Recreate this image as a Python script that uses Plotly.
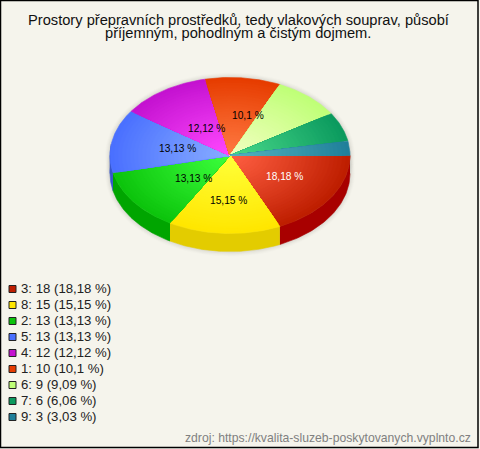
import numpy as np
import plotly.graph_objects as go

TITLE_LINES = ["Prostory přepravních prostředků, tedy vlakových souprav, působí", "příjemným, pohodlným a čistým dojmem."]
SOURCE = "zdroj: https://kvalita-sluzeb-poskytovanych.vyplnto.cz"
categories = ["3", "8", "2", "5", "4", "1", "6", "7", "9"]
values = [18, 15, 13, 13, 12, 10, 9, 6, 3]
percent_labels = ["18,18 %", "15,15 %", "13,13 %", "13,13 %", "12,12 %", "10,1 %", "9,09 %", "6,06 %", "3,03 %"]
rim_colors = ["#BE1E00", "#FFE600", "#0CC40C", "#4A70FF", "#C412D0", "#E63C00", "#BFFF77", "#0B9A5E", "#1F7F9A"]
center_colors = ["#FF5F42", "#FFFF38", "#3CFF3C", "#88ACFF", "#FF48FF", "#FF7A42", "#F2FFC0", "#48D88A", "#55B4BE"]
side_colors = ["#A80000", "#E3CC00", "#00A500", "#3556CC", "#9A0EA8", "#B83000", "#99CC60", "#087A4A", "#186680"]
shown_labels = [True, True, True, True, True, True, False, False, False]
label_colors = ["white", "black", "black", "black", "black", "black", "black", "black", "black"]
# pixel nudges of the slice labels, relative to half-radius on each slice's bisector
label_nudges = [(4, 0), (1, 6), (12, 0), (6, 0), (10, 5), (11, -1), (0, 0), (0, 0), (0, 0)]

CX, CY, RX, RY, DEPTH = 230, 155.5, 120, 78, 18
LAYERS = 30


def hex2rgb(h):
    return np.array([int(h[i:i + 2], 16) for i in (1, 3, 5)], float)


def mix(a, b, t):
    c = hex2rgb(a) * (1 - t) + hex2rgb(b) * t
    return "rgb(%d,%d,%d)" % tuple(c.round())


fig = go.Figure()


def poly(xs, ys, color):
    fig.add_trace(go.Scatter(x=xs, y=ys, mode="lines", fill="toself", fillcolor=color,
                             line=dict(width=0.6, color=color), hoverinfo="skip", showlegend=False))


total = sum(values)
edges = np.cumsum([0] + values) / total * 2 * np.pi

# soft shadow
for g, a in ((5, .012), (4, .015), (3, .02), (2, .025), (1, .03)):
    t = np.linspace(0, 2 * np.pi, 120)
    fig.add_trace(go.Scatter(x=CX + (RX + g) * np.cos(t), y=CY + (RY + g) * np.sin(t), mode="lines", fill="toself",
                             fillcolor="rgba(0,0,0,%g)" % a, line=dict(width=0), hoverinfo="skip", showlegend=False))
    fig.add_trace(go.Scatter(x=CX + (RX + g) * np.cos(t), y=CY + DEPTH + (RY + g) * np.sin(t), mode="lines", fill="toself",
                             fillcolor="rgba(0,0,0,%g)" % a, line=dict(width=0), hoverinfo="skip", showlegend=False))

# side wall (front half only)
for i in range(len(values)):
    a0, a1 = edges[i], min(edges[i + 1], np.pi)
    if a0 >= np.pi:
        continue
    t = np.linspace(a0, a1, 60)
    xs = CX + RX * np.cos(t)
    ys = CY + RY * np.sin(t)
    poly(np.r_[xs, xs[::-1]], np.r_[ys, ys[::-1] + DEPTH], side_colors[i])
    if edges[i + 1] > np.pi:
        t = np.linspace(np.pi, edges[i + 1], 30)
        t = t[np.sin(t) > -0.15]
        xs = CX + RX * np.cos(t)
        ys = CY + RY * np.sin(t)
        poly(np.r_[xs, xs[::-1]], np.r_[ys, ys[::-1] + DEPTH], side_colors[i])

# top face with radial shading
for i in range(len(values)):
    t = np.linspace(edges[i], edges[i + 1], 60)
    for k in range(LAYERS):
        f = 1 - k / LAYERS
        poly(np.r_[CX, CX + f * RX * np.cos(t), CX], np.r_[CY, CY + f * RY * np.sin(t), CY],
             mix(center_colors[i], rim_colors[i], f ** 1.1))

# slice labels
for i in range(len(values)):
    if not shown_labels[i]:
        continue
    m = (edges[i] + edges[i + 1]) / 2
    fig.add_annotation(x=CX + 0.5 * RX * np.cos(m) + label_nudges[i][0],
                       y=CY + 0.5 * RY * np.sin(m) + label_nudges[i][1],
                       text=percent_labels[i], showarrow=False,
                       font=dict(family="Liberation Sans", size=10.2, color=label_colors[i]))

# legend
rows = [289 + 16 * i for i in range(len(values))]
for i in range(len(values)):
    fig.add_trace(go.Scatter(x=[12.5], y=[rows[i]], mode="markers", hoverinfo="skip", showlegend=False,
                             marker=dict(symbol="square", size=7, color=rim_colors[i],
                                         line=dict(color="#222222", width=1))))
    fig.add_annotation(x=19, y=rows[i] - 0.5, xanchor="left", showarrow=False,
                       text="%s: %d (%s)" % (categories[i], values[i], percent_labels[i]),
                       font=dict(family="Liberation Sans", size=13.2, color="#222222"))

for line, ypos in zip(TITLE_LINES, (20, 33)):
    fig.add_annotation(x=238, y=ypos, text=line, showarrow=False,
                       font=dict(family="Liberation Sans", size=14.67, color="#111111"))
fig.add_annotation(x=473, y=437.5, xanchor="right", text=SOURCE, showarrow=False,
                   font=dict(family="Liberation Sans", size=12.2, color="#808080"))

fig.add_shape(type="rect", x0=0.5, y0=0.5, x1=478, y1=447.5, line=dict(color="black", width=1.5), layer="below")

fig.update_layout(width=480, height=449, margin=dict(l=0, r=0, t=0, b=0),
                  paper_bgcolor="white", plot_bgcolor="#F5F4EC", showlegend=False)
fig.update_xaxes(range=[0, 480], visible=False, fixedrange=True)
fig.update_yaxes(range=[449, 0], visible=False, fixedrange=True)
fig.write_html("out.html", config={"displayModeBar": False},
               post_script="document.body.style.margin='0';document.documentElement.style.overflow='hidden';")
